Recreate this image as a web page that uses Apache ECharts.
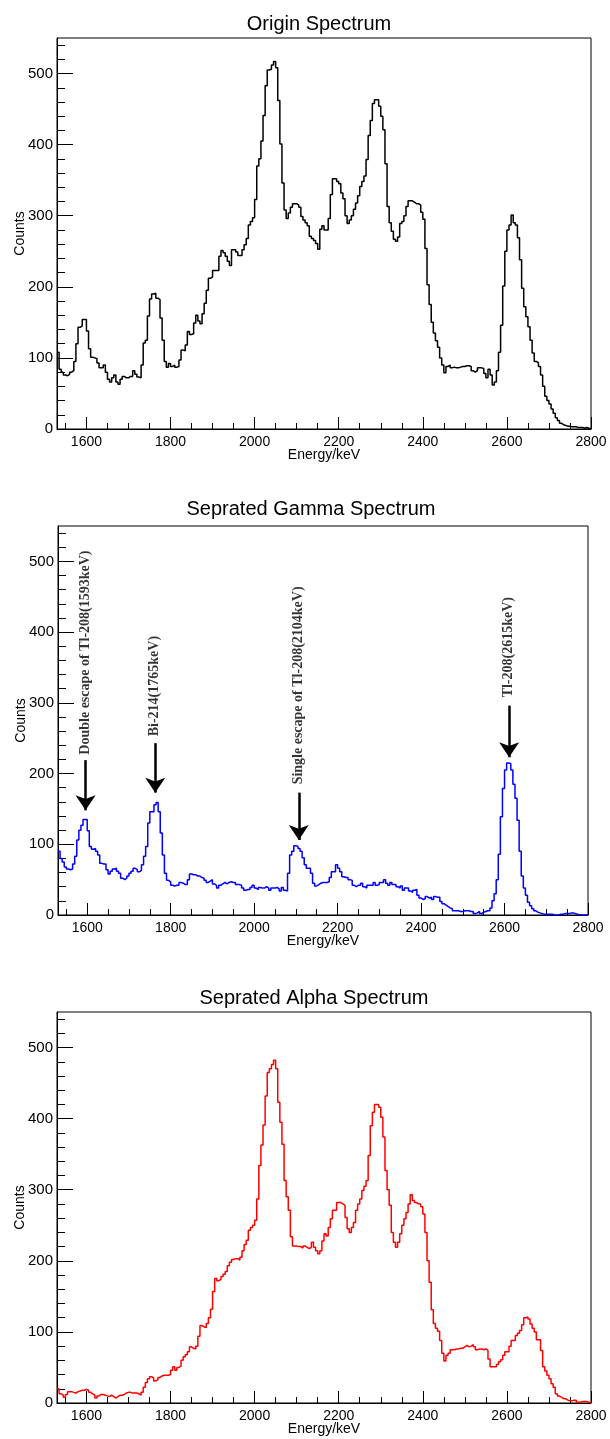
<!DOCTYPE html>
<html>
<head>
<meta charset="utf-8">
<script src="https://cdn.jsdelivr.net/npm/echarts@6/dist/echarts.min.js"></script>
<style>
html,body{margin:0;padding:0;background:#fff;}
#chart{width:610px;height:1439px;}
</style>
</head>
<body>
<div id="chart"></div>
<script>
// Histogram bins: 5 keV wide, starting at 1530 keV
const binStart = 1530;
const binWidth = 5;
const xMin = 1530, xMax = 2800;
const yMin = 0, yMax = 550;

const titles = ['Origin Spectrum', 'Seprated Gamma Spectrum', 'Seprated Alpha Spectrum'];
const xMajorTicks = [1600, 1800, 2000, 2200, 2400, 2600, 2800];
const xMinorTicks = [1550, 1650, 1700, 1750, 1850, 1900, 1950, 2050, 2100, 2150, 2250, 2300, 2350, 2450, 2500, 2550, 2650, 2700, 2750];
const yMajorTicks = [0, 100, 200, 300, 400, 500];
const yMinorTicks = [20, 40, 60, 80, 120, 140, 160, 180, 220, 240, 260, 280, 320, 340, 360, 380, 420, 440, 460, 480, 520, 540];

const originCounts = [
108, 84, 80, 76, 75, 77, 80, 82, 95, 120,
143, 145, 154, 154, 138, 113, 101, 100, 99, 93,
86, 86, 90, 80, 70, 66, 72, 76, 66, 63,
70, 74, 72, 72, 74, 74, 82, 77, 73, 72,
90, 121, 125, 159, 183, 190, 191, 184, 182, 156,
125, 95, 87, 92, 88, 90, 87, 88, 97, 111,
110, 118, 137, 133, 134, 149, 160, 152, 148, 162,
177, 195, 212, 214, 223, 223, 223, 243, 251, 248,
243, 236, 230, 252, 252, 249, 244, 244, 252, 259,
268, 287, 292, 297, 323, 370, 380, 405, 441, 483,
505, 506, 512, 517, 508, 462, 401, 346, 308, 296,
304, 312, 317, 317, 315, 312, 299, 294, 290, 286,
271, 268, 265, 261, 253, 281, 286, 280, 280, 296,
330, 352, 352, 348, 345, 332, 324, 300, 289, 294,
300, 309, 318, 328, 341, 348, 356, 379, 413, 434,
458, 463, 463, 454, 440, 421, 373, 313, 290, 278,
267, 264, 270, 289, 292, 300, 313, 321, 321, 319,
317, 317, 315, 305, 295, 254, 203, 175, 150, 135,
124, 115, 100, 90, 79, 88, 90, 86, 87, 86,
86, 87, 88, 88, 89, 89, 88, 82, 80, 82,
86, 86, 85, 78, 72, 84, 76, 62, 66, 82,
108, 146, 201, 250, 280, 287, 301, 290, 287, 269,
238, 198, 172, 158, 144, 125, 107, 95, 93, 88,
76, 60, 46, 40, 35, 28, 22, 16, 12, 8,
6, 5, 4, 4, 3, 3, 3, 2, 2, 2,
1, 2, 1, 0
];

const gammaCounts = [
90, 80, 75, 68, 65, 64, 65, 72, 83, 106,
120, 127, 135, 135, 119, 97, 93, 94, 90, 85,
73, 72, 72, 64, 58, 62, 65, 66, 62, 59,
52, 50, 52, 55, 59, 62, 66, 64, 61, 63,
71, 83, 97, 130, 146, 146, 156, 159, 146, 116,
85, 59, 49, 47, 42, 41, 42, 42, 46, 45,
43, 43, 50, 58, 57, 57, 55, 55, 53, 52,
49, 46, 48, 50, 44, 42, 38, 42, 44, 46,
44, 46, 47, 46, 46, 43, 43, 42, 38, 35,
36, 36, 39, 42, 38, 36, 39, 38, 38, 40,
38, 35, 38, 38, 39, 37, 34, 39, 35, 34,
59, 85, 90, 98, 97, 94, 90, 81, 71, 66,
66, 59, 45, 41, 43, 45, 46, 46, 46, 47,
53, 61, 61, 71, 66, 61, 54, 53, 53, 50,
49, 42, 40, 42, 42, 45, 40, 38, 42, 42,
42, 46, 42, 43, 46, 46, 50, 45, 42, 46,
43, 43, 40, 38, 41, 35, 38, 38, 34, 32,
35, 36, 28, 24, 22, 23, 26, 24, 25, 22,
26, 25, 25, 19, 16, 14, 12, 10, 9, 6,
6, 6, 5, 5, 6, 6, 6, 5, 5, 2,
3, 5, 2, 4, 5, 6, 6, 10, 20, 30,
50, 86, 139, 179, 205, 215, 214, 205, 185, 165,
134, 90, 55, 38, 28, 18, 13, 9, 6, 4,
3, 2, 1, 1, 1, 1, 1, 0, 0, 0,
1, 1, 2, 2, 2, 3, 3, 2, 1, 0,
0, 0, 0, 0
];

const alphaCounts = [
20, 13, 11, 8, 12, 16, 16, 15, 14, 16,
17, 18, 18, 19, 18, 15, 13, 11, 7, 10,
12, 12, 11, 10, 9, 11, 9, 7, 9, 11,
11, 12, 14, 15, 15, 14, 14, 14, 13, 11,
15, 22, 29, 34, 37, 35, 31, 33, 36, 38,
39, 39, 39, 40, 46, 51, 46, 50, 52, 60,
65, 68, 72, 79, 77, 76, 80, 94, 109, 107,
106, 112, 120, 132, 157, 175, 172, 174, 178, 181,
185, 193, 198, 202, 203, 203, 201, 205, 214, 223,
229, 243, 247, 250, 257, 287, 334, 363, 391, 432,
465, 470, 476, 482, 470, 423, 395, 364, 313, 290,
271, 234, 221, 221, 220, 220, 218, 221, 219, 217,
219, 226, 219, 214, 210, 214, 228, 238, 235, 247,
259, 271, 271, 282, 282, 280, 278, 261, 245, 240,
247, 254, 271, 280, 287, 299, 305, 313, 348, 390,
409, 420, 420, 416, 402, 374, 327, 300, 278, 240,
226, 219, 226, 238, 250, 259, 268, 280, 293, 285,
282, 280, 280, 276, 266, 240, 200, 170, 131, 112,
105, 101, 88, 70, 59, 67, 70, 75, 75, 76,
76, 77, 77, 79, 81, 79, 80, 82, 79, 75,
76, 76, 75, 76, 74, 62, 51, 51, 51, 54,
58, 61, 67, 72, 72, 80, 88, 88, 95, 98,
102, 110, 120, 121, 118, 111, 105, 100, 89, 89,
74, 51, 45, 39, 34, 27, 22, 13, 10, 8,
6, 6, 4, 3, 3, 4, 4, 1, 1, 2,
2, 2, 1, 1
];

// Annotations on the gamma panel (data coordinates)
const annoText = ['Double escape of Tl-208(1593keV)', 'Bi-214(1765keV)', 'Single escape of Tl-208(2104keV)', 'Tl-208(2615keV)'];
const annoEnergy = [1596, 1763, 2107, 2611];
const annoTextBase = [226, 252, 184, 307];
const arrowTop = [219, 243, 173, 296];
const arrowTip = [148, 173, 106, 223];

function toSteps(vals) {
  const d = vals.map((v, i) => [binStart + i * binWidth, v]);
  d.push([binStart + vals.length * binWidth, vals[vals.length - 1]]);
  return d;
}

const FONT = 'Liberation Sans, Arial, sans-serif';
const grids = [
  {left: 57, top: 38, width: 534, height: 391},
  {left: 58, top: 526, width: 530, height: 389},
  {left: 57, top: 1012, width: 534, height: 391}
];
const titlePos = [{left: 314, top: 9}, {left: 306, top: 494}, {left: 309, top: 983}];

const option = {
  animation: false,
  backgroundColor: '#fff',
  title: titles.map((t, i) => ({
    text: t, left: titlePos[i].left, top: titlePos[i].top, textAlign: 'center',
    textStyle: {fontFamily: FONT, fontSize: 20, fontWeight: 'normal', color: '#000'}
  })),
  grid: grids.map(g => Object.assign({show: true, borderColor: '#000', borderWidth: 1, backgroundColor: 'transparent', containLabel: false, outerBoundsMode: 'none'}, g)),
  xAxis: [],
  yAxis: [],
  series: []
};

const plain = v => String(v);

for (let g = 0; g < 3; g++) {
  option.xAxis.push({
    gridIndex: g, type: 'value', min: xMin, max: xMax, position: 'bottom',
    axisLine: {show: true, lineStyle: {color: '#000', width: 1}},
    axisTick: {show: true, inside: true, length: 12, customValues: xMajorTicks, lineStyle: {color: '#000', width: 1}},
    axisLabel: {show: true, customValues: xMajorTicks, formatter: plain, fontFamily: FONT, fontSize: 14, color: '#000', margin: 6},
    splitLine: {show: false},
    name: 'Energy/keV', nameLocation: 'middle', nameGap: 19, nameMoveOverlap: false,
    nameTextStyle: {fontFamily: FONT, fontSize: 14, color: '#000', verticalAlign: 'top'}
  });
  option.xAxis.push({
    gridIndex: g, type: 'value', min: xMin, max: xMax, position: 'bottom', offset: 0,
    axisLine: {show: false},
    axisTick: {show: true, inside: true, length: 6, customValues: xMinorTicks, lineStyle: {color: '#000', width: 1}},
    axisLabel: {show: false},
    splitLine: {show: false}
  });
  option.yAxis.push({
    gridIndex: g, type: 'value', min: yMin, max: yMax, position: 'left',
    axisLine: {show: true, lineStyle: {color: '#000', width: 1}},
    axisTick: {show: true, inside: true, length: 16, customValues: yMajorTicks, lineStyle: {color: '#000', width: 1}},
    axisLabel: {show: true, customValues: yMajorTicks, formatter: plain, fontFamily: FONT, fontSize: 15, color: '#000', margin: 4},
    splitLine: {show: false},
    name: 'Counts', nameLocation: 'middle', nameGap: 30, nameMoveOverlap: false,
    nameTextStyle: {fontFamily: FONT, fontSize: 14, color: '#000'}
  });
  option.yAxis.push({
    gridIndex: g, type: 'value', min: yMin, max: yMax, position: 'left', offset: 0,
    axisLine: {show: false},
    axisTick: {show: true, inside: true, length: 8, customValues: yMinorTicks, lineStyle: {color: '#000', width: 1}},
    axisLabel: {show: false},
    splitLine: {show: false}
  });
}

const specs = [
  {name: 'Origin', data: originCounts, color: '#000000'},
  {name: 'Gamma', data: gammaCounts, color: '#0000ff'},
  {name: 'Alpha', data: alphaCounts, color: '#ff0000'}
];
specs.forEach((s, g) => {
  option.series.push({
    name: s.name, type: 'line', step: 'end', xAxisIndex: 2 * g, yAxisIndex: 2 * g,
    data: toSteps(s.data), showSymbol: false, symbol: 'none',
    lineStyle: {color: s.color, width: 1.5}, itemStyle: {color: s.color},
    clip: true, silent: true
  });
});

// annotation labels + arrows on gamma panel
option.series.push({
  name: 'annotations', type: 'scatter', xAxisIndex: 2, yAxisIndex: 2,
  data: annoEnergy.map((e, i) => [e, annoTextBase[i]]),
  symbolSize: 1, itemStyle: {color: 'rgba(0,0,0,0)'}, silent: true,
  label: {
    show: true, position: [0, 0], rotate: 90, align: 'left', verticalAlign: 'middle',
    formatter: p => annoText[p.dataIndex],
    fontFamily: 'Liberation Serif, Times New Roman, serif', fontWeight: 'bold', fontSize: 14, color: '#000'
  },
  markLine: {
    silent: true, symbol: ['none', 'arrow'], symbolSize: [15, 15],
    label: {show: false},
    lineStyle: {color: '#000', width: 2.5, type: 'solid'},
    data: annoEnergy.map((e, i) => [{coord: [e, arrowTop[i]]}, {coord: [e, arrowTip[i]]}])
  }
});

const chart = echarts.init(document.getElementById('chart'), null, {renderer: 'canvas'});
chart.setOption(option);
</script>
</body>
</html>
